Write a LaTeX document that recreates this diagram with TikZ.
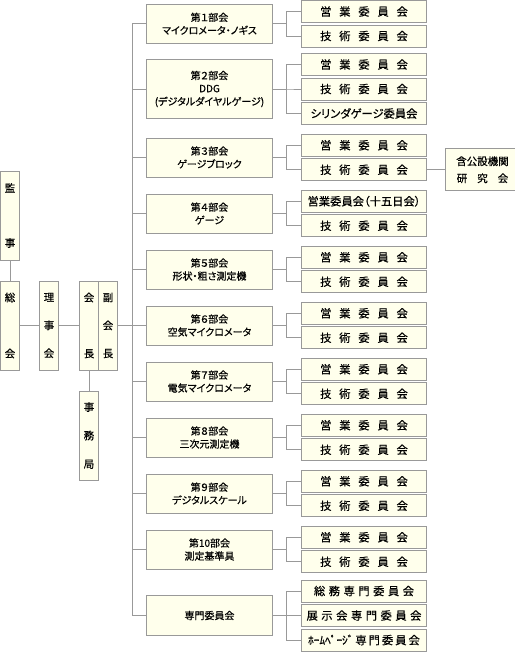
\documentclass[tikz,border=0pt]{standalone}
\usepackage{fontspec}
\setmainfont{Noto Sans CJK JP}[RawFeature=+palt, FakeBold=0.5]
\usepackage{tikz}
\usetikzlibrary{positioning}
\definecolor{cream}{RGB}{255,255,236}
\definecolor{framegray}{RGB}{153,153,153}
\newcommand{\jsp}{\hspace{7.8pt}}
\newcommand{\ksp}{\hspace{3.5pt}}

\begin{document}
\begin{tikzpicture}[
    x=1pt, y=1pt,
    node distance=2.5pt,
    box/.style={
        rectangle, draw=framegray, fill=cream, line width=1pt,
        outer sep=0pt, inner sep=1pt, align=center
    },
    tatebox/.style={box, minimum width=19pt, minimum height=89pt,
        inner sep=0pt, font=\fontsize{10.5}{12}\selectfont},
    bukai/.style={box, minimum width=126pt, minimum height=39pt,
        font=\fontsize{10}{13}\selectfont},
    iinkai/.style={box, minimum width=125pt, minimum height=22pt,
        font=\fontsize{11.3}{13}\selectfont},
    line/.style={draw=framegray, line width=1pt},
    bunki/.style={to path={-- ++(13.5pt,0) |- (\tikztotarget)}}
]
\useasboundingbox (0,0) rectangle (514,-653);

% left side
\node[tatebox] (sokai) at (10,-325.5) {総\\[44pt]会};
\node[tatebox, above=21pt of sokai] (kanji) {監\\[43pt]事};
\node[tatebox, right=20pt of sokai] (rijikai) {理\\[16pt]事\\[16pt]会};
\node[tatebox, right=21pt of rijikai] (kaicho) {会\\[44pt]長};
\node[tatebox, right=0pt of kaicho] (fukukaicho) {副\\[16pt]会\\[16pt]長};
\node[tatebox, below=21pt of kaicho] (jimukyoku) {事\\[16.5pt]務\\[16.5pt]局};
\coordinate[right=15pt of fukukaicho] (trunk);

% bukai
\node[bukai, right=14pt of trunk] (bu6) {第６部会\\空気マイクロメータ};
\node[bukai, above=17pt of bu6] (bu5) {第５部会\\形状・粗さ測定機};
\node[bukai, above=17pt of bu5] (bu4) {第４部会\\ゲージ};
\node[bukai, above=17pt of bu4] (bu3) {第３部会\\ゲージブロック};
\node[bukai, above=19.5pt of bu3, minimum height=59pt] (bu2) {第２部会\\DDG\\(デジタルダイヤルゲージ)};
\node[bukai, above=16.25pt of bu2] (bu1) {第１部会\\マイクロメータ・ノギス};
\node[bukai, below=17pt of bu6] (bu7) {第７部会\\電気マイクロメータ};
\node[bukai, below=17pt of bu7] (bu8) {第８部会\\三次元測定機};
\node[bukai, below=17pt of bu8] (bu9) {第９部会\\デジタルスケール};
\node[bukai, below=17pt of bu9] (bu10) {第10部会\\測定基準具};
\node[bukai, below=26.5pt of bu10, minimum height=40pt] (senmon) {専門委員会};

% iinkai
\node[iinkai, right=29pt of bu1, yshift=12.25pt] (ei1) {営\jsp 業\jsp 委\jsp 員\jsp 会};
\node[iinkai, below=of ei1] (gi1) {技\jsp 術\jsp 委\jsp 員\jsp 会};
\node[iinkai, right=29pt of bu2, yshift=24.5pt] (ei2) {営\jsp 業\jsp 委\jsp 員\jsp 会};
\node[iinkai, below=of ei2] (gi2) {技\jsp 術\jsp 委\jsp 員\jsp 会};
\node[iinkai, below=of gi2] (cyl2) {シリンダゲージ委員会};
\node[iinkai, right=29pt of bu3, yshift=12.25pt] (ei3) {営\jsp 業\jsp 委\jsp 員\jsp 会};
\node[iinkai, below=of ei3] (gi3) {技\jsp 術\jsp 委\jsp 員\jsp 会};
\node[box, right=19pt of gi3, minimum width=74pt, minimum height=42pt,
    font=\fontsize{10.5}{17}\selectfont] (kenkyu) {含公設機関\\研\hspace{10pt}究\hspace{10pt}会};
\node[iinkai, right=29pt of bu4, yshift=12.25pt] (ei4) {営業委員会（十五日会）};
\node[iinkai, below=of ei4] (gi4) {技\jsp 術\jsp 委\jsp 員\jsp 会};
\node[iinkai, right=29pt of bu5, yshift=12.25pt] (ei5) {営\jsp 業\jsp 委\jsp 員\jsp 会};
\node[iinkai, below=of ei5] (gi5) {技\jsp 術\jsp 委\jsp 員\jsp 会};
\node[iinkai, right=29pt of bu6, yshift=12.25pt] (ei6) {営\jsp 業\jsp 委\jsp 員\jsp 会};
\node[iinkai, below=of ei6] (gi6) {技\jsp 術\jsp 委\jsp 員\jsp 会};
\node[iinkai, right=29pt of bu7, yshift=12.25pt] (ei7) {営\jsp 業\jsp 委\jsp 員\jsp 会};
\node[iinkai, below=of ei7] (gi7) {技\jsp 術\jsp 委\jsp 員\jsp 会};
\node[iinkai, right=29pt of bu8, yshift=12.25pt] (ei8) {営\jsp 業\jsp 委\jsp 員\jsp 会};
\node[iinkai, below=of ei8] (gi8) {技\jsp 術\jsp 委\jsp 員\jsp 会};
\node[iinkai, right=29pt of bu9, yshift=12.25pt] (ei9) {営\jsp 業\jsp 委\jsp 員\jsp 会};
\node[iinkai, below=of ei9] (gi9) {技\jsp 術\jsp 委\jsp 員\jsp 会};
\node[iinkai, right=29pt of bu10, yshift=12.25pt] (ei10) {営\jsp 業\jsp 委\jsp 員\jsp 会};
\node[iinkai, below=of ei10] (gi10) {技\jsp 術\jsp 委\jsp 員\jsp 会};
\node[iinkai, right=29pt of senmon, yshift=24.5pt] (somu) {総\ksp 務\ksp 専\ksp 門\ksp 委\ksp 員\ksp 会};
\node[iinkai, below=of somu] (tenji) {展\ksp 示\ksp 会\ksp 専\ksp 門\ksp 委\ksp 員\ksp 会};
\node[iinkai, below=of tenji] (hp) {ﾎｰﾑﾍﾟｰｼﾞ\hspace{2pt}専\hspace{2pt}門\hspace{2pt}委\hspace{2pt}員\hspace{2pt}会};

% connectors
\draw[line] (kanji) -- (sokai);
\draw[line] (sokai) -- (rijikai) -- (kaicho);
\draw[line] (kaicho) -- (jimukyoku);
\draw[line] (fukukaicho) -- (trunk);
\draw[line] (bu1.west) -| (trunk) (bu2.west) -| (trunk) (bu3.west) -| (trunk)
    (bu4.west) -| (trunk) (bu5.west) -| (trunk) (bu6.west) -| (trunk)
    (bu7.west) -| (trunk) (bu8.west) -| (trunk) (bu9.west) -| (trunk)
    (bu10.west) -| (trunk) (senmon.west) -| (trunk);
\draw[line] (bu1.east) edge[bunki] (ei1.west) edge[bunki] (gi1.west);
\draw[line] (bu2.east) edge[bunki] (ei2.west) edge[bunki] (gi2.west) edge[bunki] (cyl2.west);
\draw[line] (bu3.east) edge[bunki] (ei3.west) edge[bunki] (gi3.west);
\draw[line] (gi3) -- (kenkyu);
\draw[line] (bu4.east) edge[bunki] (ei4.west) edge[bunki] (gi4.west);
\draw[line] (bu5.east) edge[bunki] (ei5.west) edge[bunki] (gi5.west);
\draw[line] (bu6.east) edge[bunki] (ei6.west) edge[bunki] (gi6.west);
\draw[line] (bu7.east) edge[bunki] (ei7.west) edge[bunki] (gi7.west);
\draw[line] (bu8.east) edge[bunki] (ei8.west) edge[bunki] (gi8.west);
\draw[line] (bu9.east) edge[bunki] (ei9.west) edge[bunki] (gi9.west);
\draw[line] (bu10.east) edge[bunki] (ei10.west) edge[bunki] (gi10.west);
\draw[line] (senmon.east) edge[bunki] (somu.west) edge[bunki] (tenji.west) edge[bunki] (hp.west);

\end{tikzpicture}
\end{document}
